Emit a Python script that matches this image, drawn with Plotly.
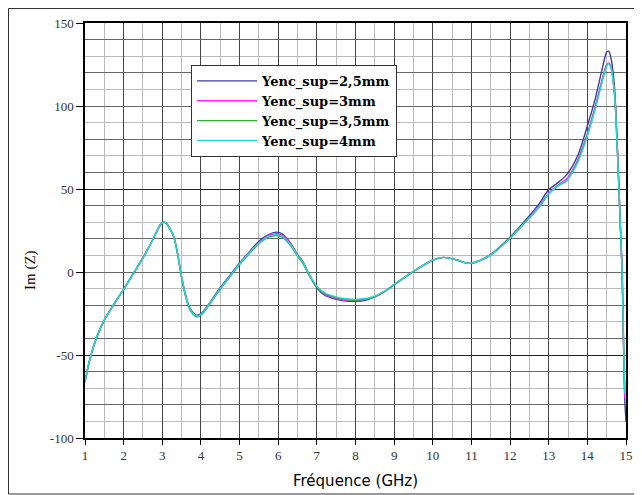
import plotly.graph_objects as go

freq = [1.0, 1.1, 1.2, 1.3, 1.4, 1.5, 1.6, 1.8, 2.0, 2.25, 2.5, 2.7, 2.85, 2.95, 3.03, 3.1, 3.2, 3.3,
        3.4, 3.5, 3.6, 3.7, 3.8, 3.89, 4.0, 4.15, 4.3, 4.5, 4.75, 5.0, 5.25, 5.5, 5.75, 5.95,
        6.1, 6.3, 6.5, 6.63, 6.8, 7.0, 7.2, 7.43, 7.7, 8.0, 8.25, 8.5, 8.75, 9.0, 9.25, 9.5,
        9.75, 10.0, 10.28, 10.6, 10.88, 11.0, 11.23, 11.48, 12.0, 12.45, 12.75, 13.0, 13.25,
        13.46, 13.75, 14.0, 14.2, 14.4, 14.5, 14.55, 14.6, 14.7, 14.8, 14.85, 14.9, 14.93, 14.97]

im_4mm = [-66, -55, -46.5, -39.5, -33.8, -29, -25, -17.5, -10.5, -1, 8.5, 17, 24, 28.5, 30, 29.5, 26, 21,
          10.5, -3, -14, -21.5, -25, -26.5, -25.5, -21.5, -16.5, -10, -2.5, 5, 11.5, 17.5, 21.5, 22.5,
          21.5, 17, 10, 6, -1.5, -8.5, -12.5, -14.5, -16, -16.5, -16, -14.5, -11.5, -7.5, -3.5, 0.4,
          4, 7.2, 8.8, 7.4, 5.4, 5.3, 7, 10, 20.4, 31.4, 39, 47, 52,
          55, 66, 82, 98, 116, 124, 125.5, 124, 108, 60, 30, 0, -35, -73]

im_3_5mm = [-66, -55, -46.5, -39.5, -33.8, -29, -25, -17.5, -10.5, -1, 8.5, 17, 24, 28.5, 30, 29.5, 26, 21,
            10.5, -3.5, -14.5, -22, -25.5, -27, -26, -22, -17, -10.5, -3, 4.5, 11, 17, 21, 22,
            21, 16.5, 9.5, 5.5, -2, -9, -13, -15, -16.5, -17, -16.5, -14.8, -11.7, -7.6, -3.5, 0.4,
            4, 7.2, 8.8, 7.4, 5.4, 5.3, 7, 10, 20.4, 31.4, 39, 47, 52,
            55, 66.5, 82.5, 98.5, 116.5, 124.5, 125.5, 124, 108, 60, 30, 0, -35, -72]

im_3mm = [-66, -55, -46.5, -39.5, -33.8, -29, -25, -17.5, -10.5, -1, 8.5, 17, 24, 28.5, 30, 29.5, 26, 21,
          10.5, -3, -14, -21.5, -25, -26.5, -25.5, -21.5, -16.5, -10, -2.5, 5, 11.5, 17.5, 22, 23,
          22, 17.5, 10, 6, -1.5, -9, -13.5, -15.5, -17, -17.2, -16.5, -14.8, -11.7, -7.6, -3.5, 0.4,
          4, 7.2, 8.8, 7.4, 5.4, 5.3, 7, 10, 20.4, 31.6, 39.5, 47.5, 52.5,
          56, 67.5, 83.5, 99.5, 117.5, 125, 126, 124.5, 108, 60, 30, 0, -36, -76]

im_2_5mm = [-66, -55, -46.5, -39.5, -33.8, -29, -25, -17.5, -10.5, -1, 8.5, 17, 24, 28.5, 30, 29.5, 26, 21,
            10.5, -3, -13.5, -21, -24.5, -26, -25, -21, -16, -9.5, -2, 5.5, 12, 18.5, 22.5, 24,
            23, 18, 10.5, 6.5, -1.5, -9.5, -14, -16, -17.3, -17.6, -17, -15, -11.8, -7.6, -3.5, 0.4,
            4, 7.2, 8.8, 7.4, 5.4, 5.3, 7, 10.3, 21, 32.5, 41, 49.5, 54,
            58.5, 70, 88, 104, 124, 132.5, 133, 130, 112, 62, 31, 0, -38, -78]

freq_2_5 = freq + [15.0]
im_2_5mm = im_2_5mm + [-90]

series = [
    ("Yenc_sup=2,5mm", freq_2_5, im_2_5mm, "#3c3c9c"),
    ("Yenc_sup=3mm", freq, im_3mm, "#ff22ff"),
    ("Yenc_sup=3,5mm", freq, im_3_5mm, "#33aa33"),
    ("Yenc_sup=4mm", freq, im_4mm, "#22d8d8"),
]

x_ticks = list(range(1, 16))
y_ticks = [-100, -50, 0, 50, 100, 150]
y_tick_labels = ["-100", "-50", "0", "50", "100", "150"]
x_title = "Fréquence (GHz)"
y_title = "Im (Z)"

fig = go.Figure()
for name, xs, ys, col in series:
    fig.add_trace(go.Scatter(x=xs, y=ys, mode="lines", name=name,
                             line=dict(color=col, width=1.4, shape="spline", smoothing=0.8)))

# overlay axis for darker 20-step horizontal grid lines
fig.add_trace(go.Scatter(x=[1], y=[0], yaxis="y2", mode="markers",
                         marker=dict(opacity=0), showlegend=False, hoverinfo="skip"))

serif = "Liberation Serif"
W, H = 634, 487
L, R, T, B = 77, 16, 15, 57
pw, ph = W - L - R, H - T - B
fig.update_layout(
    width=W, height=H,
    margin=dict(l=L, r=R, t=T, b=B),
    paper_bgcolor="white", plot_bgcolor="white",
    showlegend=True,
    legend=dict(x=0.196, y=0.899, xanchor="left", yanchor="top",
                bgcolor="white", bordercolor="#333333", borderwidth=1,
                font=dict(family="DejaVu Serif", size=13, color="black", weight="bold"),
                tracegroupgap=0, itemwidth=60),
    xaxis=dict(range=[1, 15], tickvals=x_ticks, ticks="outside", ticklen=5, tickcolor="black",
               showline=True, linecolor="black", linewidth=1.5, mirror=True,
               showgrid=True, gridcolor="#444444", gridwidth=1, automargin=False,
               minor=dict(dtick=0.5, tick0=0.5, showgrid=True, gridcolor="#bbbbbb", gridwidth=1),
               tickfont=dict(family=serif, size=13, color="#333333"),
               zeroline=False),
    yaxis=dict(range=[-100, 150], tickvals=y_ticks, ticktext=y_tick_labels,
               ticks="outside", ticklen=7, tickcolor="black", automargin=False,
               showline=True, linecolor="black", linewidth=1.5, mirror=True,
               showgrid=True, gridcolor="#222222", gridwidth=1,
               minor=dict(dtick=10, tick0=0, showgrid=True, gridcolor="#bbbbbb", gridwidth=1),
               tickfont=dict(family=serif, size=13, color="#333333"),
               zeroline=False),
    yaxis2=dict(range=[-100, 150], overlaying="y", dtick=20, tick0=0, showticklabels=False,
                showgrid=True, gridcolor="#666666", gridwidth=1, zeroline=False, showline=False),
    annotations=[
        dict(text=x_title, xref="paper", yref="paper", x=0.5, y=(ph - (481 - 8 - T)) / ph,
             xanchor="center", yanchor="middle", showarrow=False,
             font=dict(family="DejaVu Sans", size=15, color="black")),
        dict(text=y_title, xref="paper", yref="paper", x=(30 - 8 - L) / pw, y=(ph - (270 - 8 - T)) / ph,
             xanchor="center", yanchor="middle", showarrow=False, textangle=-90,
             font=dict(family=serif, size=15, color="black")),
    ],
    shapes=[dict(type="rect", xref="paper", yref="paper",
                 x0=(0.5 - L) / pw, x1=(W - 2 - L) / pw,
                 y0=(ph - (H - 1 - T)) / ph, y1=(ph + T - 0.5) / ph,
                 line=dict(color="#333333", width=1), layer="below")],
)
fig.update_layout(xaxis_layer="below traces", yaxis_layer="below traces")

fig.write_html("out.html")
